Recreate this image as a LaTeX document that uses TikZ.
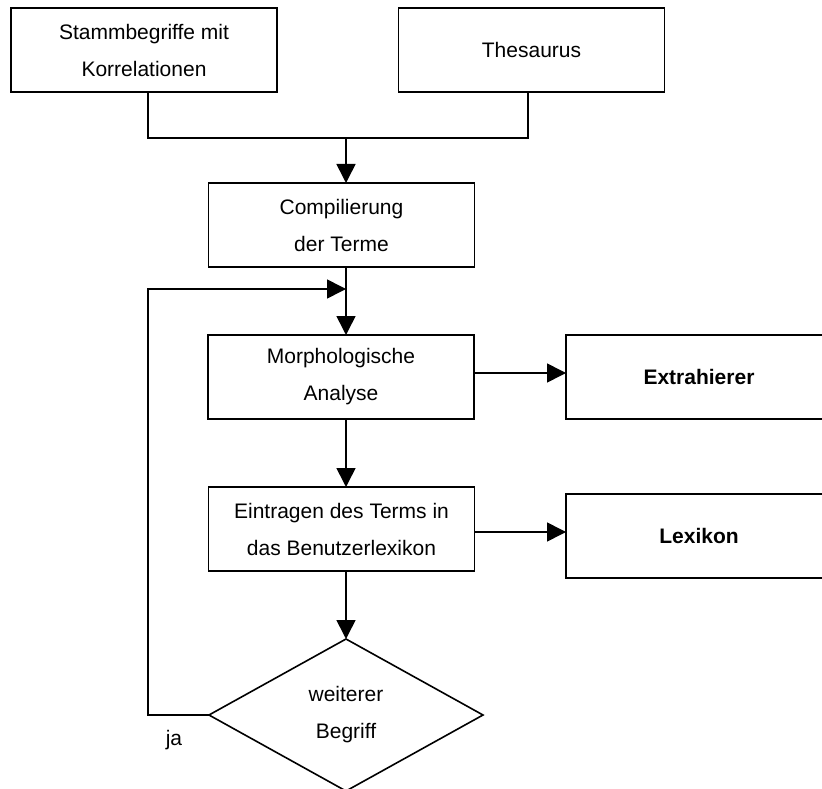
\documentclass[tikz,border=0pt]{standalone}
\usepackage{fontspec}
\setmainfont{Liberation Sans}
\usetikzlibrary{arrows.meta,shapes.geometric}
\begin{document}
\begin{tikzpicture}[x=1pt,y=-1pt,
  txt/.style={font=\fontsize{21}{37}\selectfont},
  box/.style={txt, draw, line width=1.6pt, minimum width=266pt, minimum height=84pt,
    inner sep=0pt, outer sep=0pt, align=center},
  boldbox/.style={box, font=\fontsize{21}{37}\selectfont\bfseries},
  decision/.style={txt, draw, diamond, line width=1.6pt, minimum width=274pt,
    minimum height=152pt, inner sep=0pt, outer sep=0pt, align=center},
  link/.style={line width=1.6pt},
  flow/.style={link, -{Triangle[length=19pt,width=19pt]}}]
  \useasboundingbox (0,0) rectangle (822,789);
  \clip (0,0) rectangle (822,789);

  % process boxes
  \node[box] (stamm) at (144,50) {Stammbegriffe mit\\Korrelationen};
  \node[box] (thes) at (531.5,50) {Thesaurus};
  \node[box] (comp) at (341.5,225) {Compilierung\\der Terme};
  \node[box] (morph) at (341,377) {Morphologische\\Analyse};
  \node[boldbox] (extr) at (699,377) {Extrahierer};
  \node[box] (eintr) at (341.5,529) {Eintragen des Terms in\\das Benutzerlexikon};
  \node[boldbox] (lex) at (699,536) {Lexikon};
  \node[decision] (frage) at (346,715) {weiterer\\Begriff};
  \node[txt, anchor=base] (ja) at (174,745) {ja};

  % junction points of the main line and the loop
  \coordinate (merge) at (346,138);
  \coordinate (back) at (148,289);

  % inputs joined into the main line
  \draw[link] ([xshift=4pt]stamm.south) |- (merge) -| ([xshift=-3.5pt]thes.south);
  \draw[flow] (merge) -- (merge |- comp.north);
  \draw[flow] (comp.south -| merge) -- (morph.north -| merge);
  \draw[flow] (morph.south -| merge) -- (eintr.north -| merge);
  \draw[flow] (eintr.south -| merge) -- (frage.north);

  % side outputs
  \draw[flow] ([yshift=4pt]morph.east) -- ([yshift=4pt]morph.east -| extr.west);
  \draw[flow] ([yshift=-3pt]eintr.east) -- ([yshift=-3pt]eintr.east -| lex.west);

  % loop back for the next term
  \draw[flow] (frage.west) -| (back) -- (back -| merge);
\end{tikzpicture}
\end{document}
